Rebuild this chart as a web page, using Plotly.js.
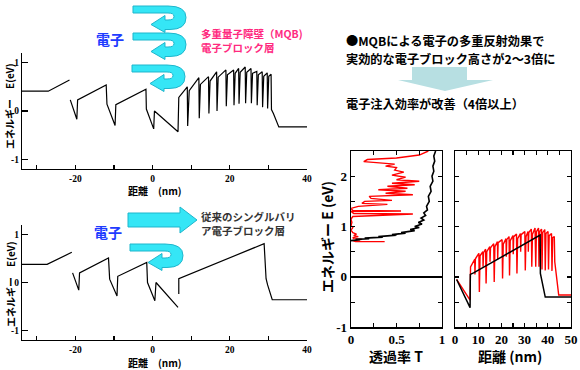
<!DOCTYPE html>
<html><head><meta charset="utf-8">
<script src="https://cdn.plot.ly/plotly-3.0.1.min.js"></script>
<style>html,body{margin:0;padding:0;background:#fff}#chart{width:580px;height:370px}</style>
</head><body><div id="chart"></div>
<script>
// ---- data ----
// top-left: MQB electron-block band profile (distance nm, energy eV)
const mqbX = [-34, -27, -21.5, null, -21.3, -19.6, -19.4, -12, -11.8, -9.7, -9.5, -1.7, -1.6, 0.3, 0.5, 6.6, 6.8, 9.0, 9.1, 9.5, 12.0, 12.1, 12.4, 14.5, 14.6, 14.9, 16.6, 16.7, 17.0, 19.0, 19.1, 19.4, 21.0, 21.1, 21.4, 22.3, 22.4, 22.7, 24.0, 24.1, 24.4, 25.5, 25.6, 25.9, 27.0, 27.1, 27.4, 28.4, 28.5, 28.8, 29.7, 29.8, 30.1, 30.7, 30.8, 31.3, 32.7, 40];
const mqbY = [0.41, 0.41, 0.64, null, 0.23, -0.17, 0.23, 0.54, 0.14, -0.30, 0.13, 0.45, 0.04, -0.37, 0.0, -0.43, 0.28, 0.50, -0.31, 0.42, 0.69, -0.15, 0.55, 0.71, -0.05, 0.62, 0.81, 0.0, 0.70, 0.85, 0.10, 0.75, 0.85, 0.12, 0.78, 0.88, 0.15, 0.80, 0.91, 0.16, 0.80, 0.88, 0.16, 0.78, 0.82, 0.12, 0.75, 0.81, 0.08, 0.72, 0.79, 0.05, 0.72, 0.76, 0.03, -0.05, -0.33, -0.33];
// bottom-left: conventional single barrier profile
const sbX = [-34, -27.3, -20.9, null, -20.7, -19.1, -18.9, -11.4, -11.1, -9.2, -9.0, -1.5, -1.3, 0.6, 0.9, 6.6, null, 6.8, 6.8, 28.9, 29.4, 29.8, 31.0, 40];
const sbY = [0.38, 0.38, 0.63, null, 0.20, -0.16, 0.20, 0.51, 0.07, -0.28, 0.13, 0.42, 0.0, -0.38, 0.0, -0.52, null, -0.24, 0.08, 0.81, 0.08, -0.05, -0.36, -0.36];
// right-left panel: transmission T vs energy E
const transBlackT = [0.0, 0.1, 0.05, 0.2, 0.15, 0.35, 0.3, 0.5, 0.45, 0.6, 0.55, 0.7, 0.65, 0.75, 0.7, 0.78, 0.74, 0.8, 0.77, 0.82, 0.8, 0.84, 0.83, 0.86, 0.85, 0.88, 0.87, 0.9, 0.89, 0.91, 0.9, 0.92, 0.91, 0.93];
const transBlackE = [0.72, 0.74, 0.745, 0.76, 0.77, 0.79, 0.80, 0.83, 0.84, 0.87, 0.88, 0.92, 0.94, 0.98, 1.0, 1.05, 1.08, 1.13, 1.17, 1.22, 1.27, 1.33, 1.4, 1.5, 1.6, 1.7, 1.8, 1.9, 2.0, 2.1, 2.2, 2.3, 2.4, 2.5];
const transRedT = [0.37, 0.05, 0.02, 0.12, 0.03, 0.02, 0.08, 0.03, 0.06, 0.02, 0.0, 0.02, 0.0, 0.01, 0.0, 0.02, 0.68, 0.03, 0.0, 0.55, 0.02, 0.0, 0.08, 0.4, 0.12, 0.15, 0.45, 0.22, 0.2, 0.68, 0.38, 0.6, 0.3, 0.62, 0.4, 0.7, 0.45, 0.75, 0.5, 0.6, 0.45, 0.58, 0.48, 0.5, 0.38, 0.48, 0.28, 0.14, 0.18, 0.5, 0.75, 0.85];
const transRedE = [0.70, 0.70, 0.72, 0.745, 0.76, 0.78, 0.80, 0.82, 0.85, 0.88, 0.93, 0.98, 1.02, 1.08, 1.15, 1.2, 1.25, 1.26, 1.3, 1.31, 1.32, 1.36, 1.4, 1.44, 1.46, 1.5, 1.52, 1.56, 1.6, 1.63, 1.66, 1.7, 1.73, 1.76, 1.8, 1.83, 1.86, 1.9, 1.93, 1.98, 2.02, 2.08, 2.12, 2.17, 2.2, 2.24, 2.27, 2.29, 2.33, 2.36, 2.42, 2.5];
// right-right panel: band profile (distance nm, energy eV)
const profBlackX = [0.7, 6.5, 6.6, 8.0, 36.7, 36.8, 38.9, 50];
const profBlackE = [-0.05, -0.61, 0.05, 0.08, 0.83, 0.07, -0.40, -0.40];
const profRedX = [0.7, 6.5, 6.7, 8.5, 8.6, 8.8, 10.3, 10.5, 10.8, 12.0, 12.1, 12.3, 13.2, 13.4, 13.7, 15.0, 15.1, 15.3, 16.7, 16.9, 17.2, 18.3, 18.4, 18.6, 20.3, 20.5, 20.8, 22.0, 22.1, 22.3, 23.3, 23.5, 23.8, 25.0, 25.1, 25.3, 26.5, 26.7, 27.0, 28.2, 28.3, 28.5, 30.1, 30.3, 30.6, 31.5, 31.6, 31.8, 32.9, 33.1, 33.4, 34.5, 34.8, 35.1, 36.0, 36.2, 36.5, 37.3, 37.5, 37.8, 38.7, 38.9, 39.2, 40.1, 40.3, 40.6, 41.6, 41.8, 42.1, 42.8, 43.0, 44.7, 50];
const profRedE = [-0.05, -0.46, 0.20, 0.35, 0.05, 0.36, 0.47, -0.30, 0.42, 0.50, 0.20, 0.48, 0.55, -0.13, 0.50, 0.60, 0.30, 0.58, 0.66, -0.10, 0.60, 0.70, 0.35, 0.68, 0.74, -0.03, 0.65, 0.76, 0.40, 0.74, 0.80, 0.03, 0.72, 0.82, 0.45, 0.80, 0.85, 0.07, 0.76, 0.86, 0.50, 0.84, 0.90, 0.13, 0.80, 0.90, 0.50, 0.88, 0.95, 0.20, 0.85, 0.97, 0.20, 0.90, 0.97, 0.20, 0.90, 0.95, 0.15, 0.88, 0.94, 0.13, 0.86, 0.90, 0.15, 0.82, 0.86, 0.12, 0.78, 0.80, 0.30, -0.36, -0.36];
// tick labels
const leftXTicks = [-30, -20, -10, 0, 10, 20, 30, 40];
const leftXText = ['', '-20', '', '0', '', '20', '', '40'];
const leftYTicks = [-1, 0, 1];
const leftYText = ['-1', '0', '1'];
const tTicks = [0, 0.25, 0.5, 0.75, 1];
const tText = ['0', '', '0.5', '', '1'];
const dTicks = [0, 5, 10, 15, 20, 25, 30, 35, 40, 45, 50];
const dText = ['0', '', '10', '', '20', '', '30', '', '40', '', '50'];
const eTicks = [-1, -0.5, 0, 0.5, 1, 1.5, 2, 2.5];
const eText = ['-1', '', '0', '', '1', '', '2', ''];

// ---- layout helpers (pixel -> paper) ----
const W = 580, H = 370;
const fx = x => x / W;
const fy = y => 1 - y / H;
function pth(cmds, dx, dy) {
  dx = dx || 0; dy = dy || 0;
  return cmds.map(c => {
    const nums = [];
    for (let i = 1; i < c.length; i += 2) nums.push(fx(c[i] + dx).toFixed(5) + ',' + fy(c[i + 1] + dy).toFixed(5));
    return c[0] + nums.join(' ');
  }).join(' ') + ' Z';
}
const uturn = [['M',133,6],['L',168,6],['Q',186,6,186,17.5],['Q',186,29.5,170,29.5],['L',165,29.5],['L',165,32.5],['L',151,24.5],['L',165,15.5],['L',165,20],['L',168,20],['Q',174,20,174,16.5],['Q',174,13,168,13],['L',133,13]];
const straight = [['M',128,213],['L',180,213],['L',180,207],['L',197,220],['L',180,233],['L',180,227],['L',128,227]];
const down = [['M',412,67],['L',467,67],['L',467,80],['L',493,80],['L',445,91],['L',398,80],['L',412,80]];
const cyan = {fill: '#35e6f6', line: '#1fb6cc'};
function arrowShape(cmds, dx, dy, col, lc, lw) {
  return {type: 'path', xref: 'paper', yref: 'paper', path: pth(cmds, dx, dy), fillcolor: col, line: {color: lc, width: lw}, layer: 'above'};
}

const serif = 'Liberation Serif, DejaVu Serif, serif';
const jp = 'Noto Sans CJK JP, sans-serif';
const smallTick = {family: serif, size: 9.5, color: '#000', weight: 'bold'};
const bigTick = {family: serif, size: 13, color: '#000', weight: 'bold'};

function leftX(anchor) {
  return {domain: [fx(22), fx(307)], range: [-33.8, 40], anchor: anchor, showline: true, linecolor: '#000', linewidth: 1.2,
    ticks: 'inside', ticklen: 4, tickwidth: 1.2, tickcolor: '#000', tickvals: leftXTicks, ticktext: leftXText,
    tickfont: smallTick, showgrid: false, zeroline: false};
}
function leftY(d, anchor) {
  return {domain: d, range: [-1.2, 1.2], anchor: anchor, showline: true, linecolor: '#000', linewidth: 1.2,
    ticks: 'inside', ticklen: 6, tickwidth: 1.2, tickcolor: '#000', tickvals: leftYTicks, ticktext: leftYText,
    tickfont: smallTick, showgrid: false, zeroline: false};
}
const boxAxis = {showline: true, linecolor: '#000', linewidth: 1.3, mirror: 'ticks', ticks: 'inside', ticklen: 4,
  tickwidth: 1.2, tickcolor: '#000', showgrid: false, tickfont: bigTick};
const rightYDomain = [fy(327.3), fy(151)];

const traces = [
  {x: mqbX, y: mqbY, xaxis: 'x', yaxis: 'y', mode: 'lines', line: {color: '#000', width: 1.2}, connectgaps: false, hoverinfo: 'skip'},
  {x: sbX, y: sbY, xaxis: 'x2', yaxis: 'y2', mode: 'lines', line: {color: '#000', width: 1.2}, connectgaps: false, hoverinfo: 'skip'},
  {x: transRedT, y: transRedE, xaxis: 'x3', yaxis: 'y3', mode: 'lines', line: {color: '#ff0000', width: 1.4}, hoverinfo: 'skip'},
  {x: transBlackT, y: transBlackE, xaxis: 'x3', yaxis: 'y3', mode: 'lines', line: {color: '#000', width: 1.6}, hoverinfo: 'skip'},
  {x: profRedX, y: profRedE, xaxis: 'x4', yaxis: 'y4', mode: 'lines', line: {color: '#ff0000', width: 1.4}, hoverinfo: 'skip'},
  {x: profBlackX, y: profBlackE, xaxis: 'x4', yaxis: 'y4', mode: 'lines', line: {color: '#000', width: 1.5}, hoverinfo: 'skip'}
];

function txt(text, x, y, opts) {
  return Object.assign({text: text, x: fx(x), y: fy(y), xref: 'paper', yref: 'paper', showarrow: false,
    xanchor: 'center', yanchor: 'middle', borderpad: 0, font: {family: jp, size: 10, color: '#000'}}, opts || {});
}
const jpB = (size, color) => ({family: jp, size: size, color: color || '#000', weight: 'bold'});

const annotations = [
  txt('電子', 110, 38.5, {font: jpB(14, '#1f3cff')}),
  txt('多重量子障壁（MQB)<br>電子ブロック層', 200, 41, {xanchor: 'left', align: 'left', font: jpB(10.5, '#ff2a7f')}),
  txt('電子', 107.5, 232, {font: jpB(14, '#1f3cff')}),
  txt('従来のシングルバリ<br>ア電子ブロック層', 200, 223.5, {xanchor: 'left', align: 'left', font: jpB(10.5, '#333333')}),
  txt('エネルギー　E(eV)', 10, 107, {textangle: -90, font: jpB(10)}),
  txt('エネルギー　E(eV)', 10, 285, {textangle: -90, font: jpB(10)}),
  txt('距離　(nm)', 155, 190, {font: jpB(10)}),
  txt('距離　(nm)', 155, 362, {font: jpB(10)}),
  txt('●MQBによる電子の多重反射効果で', 345, 40.5, {xanchor: 'left', font: jpB(12.2)}),
  txt('実効的な電子ブロック高さが2～3倍に', 345, 58.5, {xanchor: 'left', font: jpB(12.2)}),
  txt('電子注入効率が改善（4倍以上）', 345, 104, {xanchor: 'left', font: jpB(12.2)}),
  txt('エネルギー E (eV)', 327, 237, {textangle: -90, font: jpB(14)}),
  txt('透過率 T', 396, 356, {font: jpB(14)}),
  txt('距離 (nm)', 510, 356, {font: jpB(14)})
];

const shapes = [
  arrowShape(uturn, 0, 0, cyan.fill, cyan.line, 1),
  arrowShape(uturn, 0, 27, cyan.fill, cyan.line, 1),
  arrowShape(uturn, -1, 59, cyan.fill, cyan.line, 1),
  arrowShape(straight, 0, 0, cyan.fill, cyan.line, 1),
  arrowShape(uturn, -3, 238, cyan.fill, cyan.line, 1),
  arrowShape(down, 0, 0, '#b7dfe2', 'rgba(0,0,0,0)', 0)
];

const layout = {
  width: W, height: H, margin: {l: 0, r: 0, t: 0, b: 0}, showlegend: false,
  paper_bgcolor: '#fff', plot_bgcolor: '#fff',
  xaxis: leftX('y'),
  yaxis: leftY([fy(169), fy(53)], 'x'),
  xaxis2: leftX('y2'),
  yaxis2: leftY([fy(340), fy(225)], 'x2'),
  xaxis3: Object.assign({}, boxAxis, {domain: [fx(351), fx(442)], range: [0, 1], anchor: 'y3', tickvals: tTicks, ticktext: tText, zeroline: false}),
  yaxis3: Object.assign({}, boxAxis, {domain: rightYDomain, range: [-1, 2.5], anchor: 'x3', tickvals: eTicks, ticktext: eText, zeroline: true, zerolinecolor: '#000', zerolinewidth: 1.2}),
  xaxis4: Object.assign({}, boxAxis, {domain: [fx(455), fx(571)], range: [0, 50], anchor: 'y4', tickvals: dTicks, ticktext: dText, zeroline: false}),
  yaxis4: Object.assign({}, boxAxis, {domain: rightYDomain, range: [-1, 2.5], anchor: 'x4', tickvals: eTicks, showticklabels: false, zeroline: false}),
  annotations: annotations,
  shapes: shapes
};
Plotly.newPlot('chart', traces, layout, {staticPlot: true, displayModeBar: false});
</script></body></html>
